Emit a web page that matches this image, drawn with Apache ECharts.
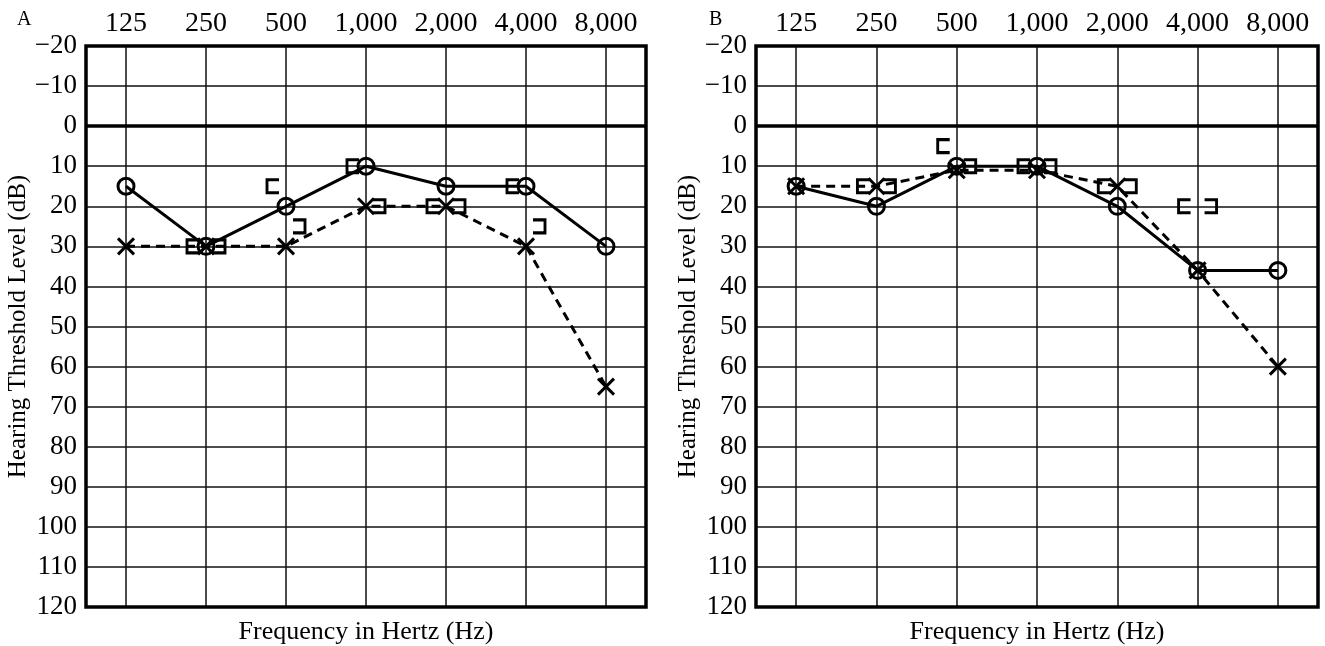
<!DOCTYPE html>
<html>
<head>
<meta charset="utf-8">
<script src="https://cdn.jsdelivr.net/npm/echarts@6/dist/echarts.min.js"></script>
<style>
html,body{margin:0;padding:0;background:#fff;}
#chart{width:1325px;height:646px;}
</style>
</head>
<body>
<div id="chart"></div>
<script>
// ---- data ----
const freqLabels = ['125', '250', '500', '1,000', '2,000', '4,000', '8,000'];
const dbTicks = [-20, -10, 0, 10, 20, 30, 40, 50, 60, 70, 80, 90, 100, 110, 120];

// Panel A
const aCircle = [15, 30, 20, 10, 15, 15, 30];          // solid line, O
const aCross = [30, 30, 30, 20, 20, 30, 65];           // dashed line, X
const aLeftBracket = [['250', 30], ['500', 15], ['1,000', 10], ['2,000', 20], ['4,000', 15]];
const aRightBracket = [['250', 30], ['500', 25], ['1,000', 20], ['2,000', 20], ['4,000', 25]];

// Panel B
const bCircle = [15, 20, 10, 10, 20, 36, 36];
const bCross = [15, 15, 11, 11, 15, 36, 60];
const bLeftBracket = [['250', 15], ['500', 5], ['1,000', 10], ['2,000', 15], ['4,000', 20]];
const bRightBracket = [['250', 15], ['500', 10], ['1,000', 10], ['2,000', 15], ['4,000', 20]];

const panelLetters = ['A', 'B'];
const xTitle = 'Frequency in Hertz (Hz)';
const yTitle = 'Hearing Threshold Level (dB)';

// ---- styling ----
const FONT = '"Liberation Serif", "DejaVu Serif", serif';
const tickIdx = freqLabels.map((_, i) => i);
const CROSS = 'path://M0,0L10,10M10,0L0,10';
const LBR = 'path://M10,0L0,0L0,11L10,11';
const RBR = 'path://M0,0L10,0L10,11L0,11';

const grids = [
  {left: 86, top: 46, width: 560, height: 561},
  {left: 756, top: 46, width: 562, height: 561}
];

function idx(label) { return freqLabels.indexOf(label); }

const xAxes = [], yAxes = [], series = [];
grids.forEach((g, gi) => {
  xAxes.push({
    gridIndex: gi, type: 'value', position: 'top', min: -0.5, max: 6.5,
    axisLine: {show: false},
    axisTick: {show: false, customValues: tickIdx},
    axisLabel: {customValues: tickIdx, formatter: v => freqLabels[Math.round(v)],
      fontFamily: FONT, fontSize: 28, color: '#000', margin: 8},
    splitLine: {show: true, lineStyle: {color: '#111', width: 1.5}}
  });
  xAxes.push({
    gridIndex: gi, type: 'value', position: 'bottom', min: -0.5, max: 6.5,
    axisLine: {show: false}, axisTick: {show: false}, axisLabel: {show: false},
    splitLine: {show: false},
    name: xTitle, nameLocation: 'middle', nameGap: 12,
    nameTextStyle: {fontFamily: FONT, fontSize: 26, color: '#000', verticalAlign: 'top'}
  });
  yAxes.push({
    gridIndex: gi, type: 'value', inverse: true, min: -20, max: 120, interval: 10,
    axisLine: {show: false}, axisTick: {show: false},
    axisLabel: {fontFamily: FONT, fontSize: 27, color: '#000', margin: 9,
      formatter: v => v < 0 ? '\u2212' + Math.abs(v) : String(v)},
    splitLine: {show: true, lineStyle: {color: '#111', width: 1.5}},
    name: yTitle, nameLocation: 'middle', nameGap: 53,
    nameTextStyle: {fontFamily: FONT, fontSize: 25, color: '#000'}
  });
});

const markStyle = {color: 'transparent', borderColor: '#000', borderWidth: 3, opacity: 1};

function addPanel(gi, circ, cross, lb, rb) {
  const xa = gi * 2, ya = gi;
  series.push({
    type: 'line', xAxisIndex: xa, yAxisIndex: ya, z: 3,
    data: cross.map((v, i) => [i, v]),
    symbol: CROSS, symbolSize: 16,
    lineStyle: {color: '#000', width: 3, type: [9, 6]},
    itemStyle: markStyle,
    markLine: {silent: true, symbol: 'none', label: {show: false},
      lineStyle: {color: '#000', width: 3.5, type: 'solid'},
      data: [{yAxis: 0}]}
  });
  series.push({
    type: 'line', xAxisIndex: xa, yAxisIndex: ya, z: 4,
    data: circ.map((v, i) => [i, v]),
    symbol: 'circle', symbolSize: 16,
    lineStyle: {color: '#000', width: 3},
    itemStyle: markStyle
  });
  series.push({
    type: 'scatter', xAxisIndex: xa, yAxisIndex: ya, z: 5,
    data: lb.map(d => [idx(d[0]), d[1]]),
    symbol: LBR, symbolSize: [12, 13], symbolOffset: [-13, 0],
    itemStyle: markStyle
  });
  series.push({
    type: 'scatter', xAxisIndex: xa, yAxisIndex: ya, z: 5,
    data: rb.map(d => [idx(d[0]), d[1]]),
    symbol: RBR, symbolSize: [12, 13], symbolOffset: [13, 0],
    itemStyle: markStyle
  });
}
addPanel(0, aCircle, aCross, aLeftBracket, aRightBracket);
addPanel(1, bCircle, bCross, bLeftBracket, bRightBracket);

const chart = echarts.init(document.getElementById('chart'), null, {renderer: 'canvas'});
chart.setOption({
  animation: false,
  backgroundColor: '#fff',
  title: [
    {text: panelLetters[0], left: 12, top: 5, textStyle: {fontFamily: FONT, fontSize: 20, fontWeight: 'normal', color: '#000'}},
    {text: panelLetters[1], left: 704, top: 5, textStyle: {fontFamily: FONT, fontSize: 20, fontWeight: 'normal', color: '#000'}}
  ],
  grid: grids.map(g => Object.assign({show: true, borderColor: '#000', borderWidth: 3.5, backgroundColor: 'transparent', z: 10,
    containLabel: false, outerBoundsMode: 'none'}, g)),
  xAxis: xAxes,
  yAxis: yAxes,
  series: series
});
</script>
</body>
</html>
